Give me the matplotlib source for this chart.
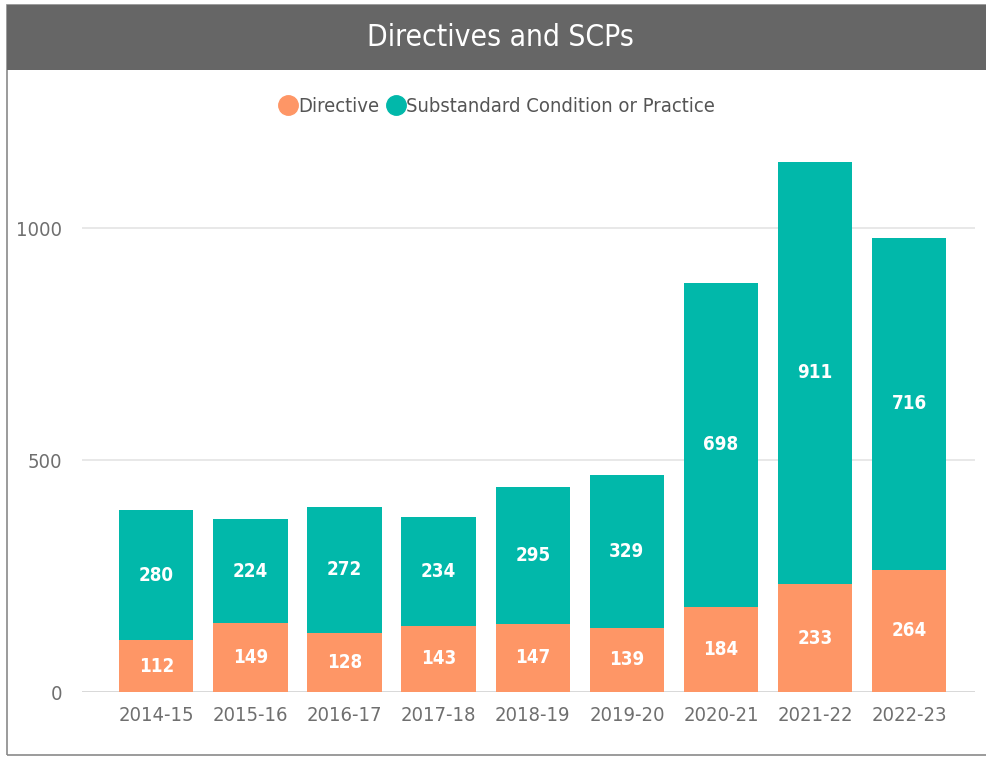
import matplotlib
matplotlib.use("Agg")
import matplotlib.pyplot as plt
from matplotlib.patches import Rectangle
from matplotlib.lines import Line2D
import numpy as np

# data
years = ['2014-15', '2015-16', '2016-17', '2017-18', '2018-19',
         '2019-20', '2020-21', '2021-22', '2022-23']
directive = [112, 149, 128, 143, 147, 139, 184, 233, 264]
scp = [280, 224, 272, 234, 295, 329, 698, 911, 716]

ORANGE = '#FE9666'
TEAL = '#01B8AA'
GREY_TXT = '#6f6f6f'

plt.rcParams['font.family'] = ['DejaVu Sans']
plt.rcParams['font.stretch'] = 'condensed'

fig = plt.figure(figsize=(9.87, 7.58), dpi=100)

# frame and title bar
fig.patches.append(Rectangle((0.007, 0.004), 0.995, 0.99, transform=fig.transFigure,
                             fill=False, edgecolor='#8a8a8a', lw=1.2, zorder=0))
fig.patches.append(Rectangle((0.007, 0.907), 0.995, 0.087, transform=fig.transFigure,
                             facecolor='#666666', edgecolor='none', zorder=1))
fig.text(0.507, 0.951, 'Directives and SCPs', color='white', fontsize=21.5,
         ha='center', va='center')

ax = fig.add_axes([0.083, 0.087, 0.905, 0.728])
x = np.arange(len(years))
w = 0.79
ax.bar(x, directive, width=w, color=ORANGE, zorder=3)
ax.bar(x, scp, width=w, bottom=directive, color=TEAL, zorder=3)

for i in range(len(years)):
    ax.text(x[i], directive[i] / 2, str(directive[i]), color='white',
            fontsize=13.5, fontweight='bold', ha='center', va='center', zorder=4)
    ax.text(x[i], directive[i] + scp[i] / 2, str(scp[i]), color='white',
            fontsize=13.5, fontweight='bold', ha='center', va='center', zorder=4)

ax.set_xlim(-0.79, 8.7)
ax.set_ylim(0, 1190)
ax.set_yticks([0, 500, 1000])
ax.set_yticklabels(['0', '500', '1000'])
ax.set_xticks(x)
ax.set_xticklabels(years)
ax.yaxis.grid(True, color='#e6e6e6', lw=1.3, zorder=0)
ax.axhline(0, color='#d8d8d8', lw=1.3, zorder=1)
ax.set_axisbelow(True)
for s in ax.spines.values():
    s.set_visible(False)
ax.tick_params(axis='both', length=0, colors=GREY_TXT, labelsize=14.5)
ax.tick_params(axis='y', pad=14)
ax.tick_params(axis='x', pad=10)

handles = [Line2D([], [], marker='o', ls='none', color=ORANGE, markersize=14),
           Line2D([], [], marker='o', ls='none', color=TEAL, markersize=14)]
leg = fig.legend(handles, ['Directive', 'Substandard Condition or Practice'],
                 loc='center', bbox_to_anchor=(0.503, 0.859), ncol=2, frameon=False,
                 fontsize=14.5, handletextpad=0.0, columnspacing=0.3,
                 handlelength=1.0)
for t in leg.get_texts():
    t.set_color('#555555')

fig.savefig('out.png', dpi=100)
